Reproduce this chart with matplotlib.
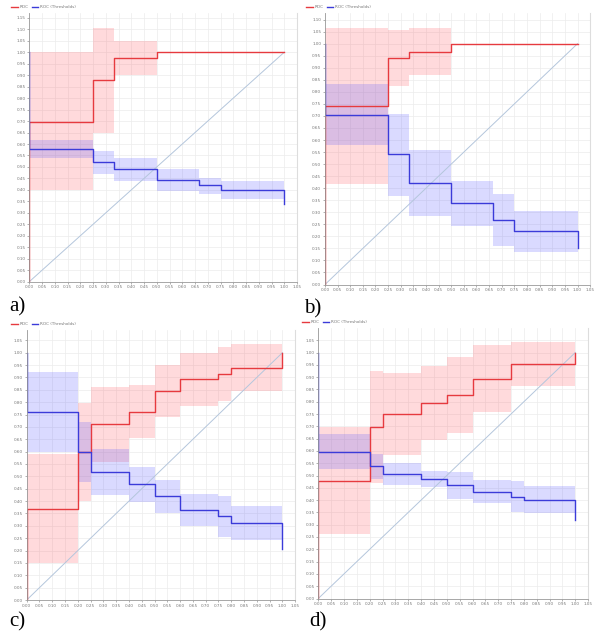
#!/usr/bin/env python3
"""Four ROC panels with threshold curves and confidence bands."""

import matplotlib
matplotlib.use("Agg")
import matplotlib.pyplot as plt
import numpy as np

# panel a
a_roc_edges = [0, 0.25, 0.333, 0.5, 1.0]
a_roc = [0.695, 0.88, 0.975, 1.0]
a_roc_band_edges = [0, 0.25, 0.333, 0.5]
a_roc_low = [0.40, 0.65, 0.90]
a_roc_high = [1.00, 1.105, 1.047]
a_thr_edges = [0, 0.25, 0.333, 0.5, 0.667, 0.75, 1.0]
a_thr = [0.58, 0.52, 0.49, 0.445, 0.42, 0.40]
a_thr_end = 0.34
a_thr_low = [0.54, 0.468, 0.44, 0.395, 0.383, 0.362]
a_thr_high = [0.619, 0.571, 0.539, 0.491, 0.453, 0.437]

# panel b
b_roc_edges = [0, 0.25, 0.333, 0.5, 1.0]
b_roc = [0.742, 0.942, 0.967, 1.0]
b_roc_band_edges = [0, 0.25, 0.333, 0.5]
b_roc_low = [0.418, 0.824, 0.869]
b_roc_high = [1.065, 1.057, 1.065]
b_thr_edges = [0, 0.25, 0.333, 0.5, 0.667, 0.75, 1.0]
b_thr = [0.705, 0.541, 0.42, 0.337, 0.269, 0.221]
b_thr_end = 0.15
b_thr_low = [0.578, 0.369, 0.283, 0.243, 0.16, 0.135]
b_thr_high = [0.834, 0.708, 0.557, 0.43, 0.376, 0.305]

# panel c
c_roc_edges = [0, 0.2, 0.25, 0.4, 0.5, 0.6, 0.75, 0.8, 1.0]
c_roc = [0.369, 0.60, 0.713, 0.761, 0.844, 0.894, 0.914, 0.937]
c_roc_band_edges = c_roc_edges
c_roc_low = [0.15, 0.40, 0.559, 0.656, 0.739, 0.784, 0.806, 0.846]
c_roc_high = [0.592, 0.797, 0.863, 0.869, 0.949, 1.0, 1.022, 1.034]
c_thr_edges = [0, 0.2, 0.25, 0.4, 0.5, 0.6, 0.75, 0.8, 1.0]
c_thr = [0.761, 0.60, 0.519, 0.469, 0.419, 0.365, 0.34, 0.311]
c_thr_end = 0.205
c_thr_low = [0.597, 0.476, 0.426, 0.398, 0.35, 0.30, 0.255, 0.243]
c_thr_high = [0.923, 0.72, 0.612, 0.537, 0.484, 0.43, 0.42, 0.379]

# panel d
d_roc_edges = [0, 0.2, 0.25, 0.4, 0.5, 0.6, 0.75, 1.0]
d_roc = [0.479, 0.698, 0.749, 0.795, 0.829, 0.892, 0.953]
d_roc_band_edges = d_roc_edges
d_roc_low = [0.261, 0.47, 0.583, 0.644, 0.674, 0.757, 0.863]
d_roc_high = [0.698, 0.925, 0.917, 0.944, 0.98, 1.029, 1.041]
d_thr_edges = [0, 0.2, 0.25, 0.4, 0.5, 0.6, 0.75, 0.8, 1.0]
d_thr = [0.596, 0.539, 0.506, 0.485, 0.461, 0.434, 0.414, 0.402]
d_thr_end = 0.319
d_thr_low = [0.525, 0.487, 0.46, 0.452, 0.404, 0.39, 0.35, 0.346]
d_thr_high = [0.667, 0.589, 0.552, 0.518, 0.513, 0.482, 0.478, 0.456]

RED = "#e63a3f"
BLUE = "#3b3bd9"
RED_BAND = (1.0, 0.35, 0.38, 0.22)
BLUE_BAND = (0.35, 0.35, 1.0, 0.22)

W, H = 595, 634


def step_path(edges, values, start, end):
    xs, ys = [edges[0]], [start]
    for i, v in enumerate(values):
        xs += [edges[i], edges[i + 1]]
        ys += [v, v]
    xs.append(edges[-1])
    ys.append(end)
    return xs, ys


def band(ax, edges, low, high, color):
    ax.fill_between(edges, list(low) + [low[-1]], list(high) + [high[-1]],
                    step="post", color=color, linewidth=0)


def draw_panel(ax, roc_edges, roc, band_edges, roc_low, roc_high,
               thr_edges, thr, thr_end, thr_low, thr_high, ytop):
    band(ax, band_edges, roc_low, roc_high, RED_BAND)
    band(ax, thr_edges, thr_low, thr_high, BLUE_BAND)
    ax.plot([0, 1], [0, 1], color="#b4c6dc", lw=0.7)
    x, y = step_path(roc_edges, roc, 0.0, 1.0)
    ax.plot(x, y, color=RED, lw=1.0, label="ROC")
    x, y = step_path(thr_edges, thr, 1.0, thr_end)
    ax.plot(x, y, color=BLUE, lw=1.0, label="ROC (Thresholds)")

    ticks = np.round(np.arange(0, 1.051, 0.05), 2)
    ax.set_xlim(0, 1.05)
    ax.set_ylim(0, ytop)
    ax.set_xticks(ticks)
    ax.set_yticks(np.round(np.arange(0, ytop, 0.05), 2))
    ax.xaxis.set_major_formatter(matplotlib.ticker.FormatStrFormatter("%.2f"))
    ax.yaxis.set_major_formatter(matplotlib.ticker.FormatStrFormatter("%.2f"))
    ax.tick_params(labelsize=3, colors="#777777", length=1.2, width=0.4, pad=1.5)
    ax.grid(True, color="#ececec", lw=0.5)
    ax.set_axisbelow(True)
    for side in ("left", "bottom"):
        ax.spines[side].set_color("#999999")
        ax.spines[side].set_linewidth(0.6)
    ax.spines["right"].set_color("#dddddd")
    ax.spines["right"].set_linewidth(0.8)
    ax.spines["top"].set_visible(False)


def main() -> None:
    fig = plt.figure(figsize=(W / 100, H / 100), dpi=100)

    # left px, px per unit x, y0 px, px per unit y, ylim top
    layout = [
        (29.3, 255.0, 281.7, 229.5, 1.17),
        (325.0, 252.5, 284.5, 240.8, 1.127),
        (26.7, 255.7, 600.0, 247.3, 1.09),
        (318.3, 257.0, 598.5, 246.0, 1.10),
    ]
    panels = [
        (a_roc_edges, a_roc, a_roc_band_edges, a_roc_low, a_roc_high,
         a_thr_edges, a_thr, a_thr_end, a_thr_low, a_thr_high),
        (b_roc_edges, b_roc, b_roc_band_edges, b_roc_low, b_roc_high,
         b_thr_edges, b_thr, b_thr_end, b_thr_low, b_thr_high),
        (c_roc_edges, c_roc, c_roc_band_edges, c_roc_low, c_roc_high,
         c_thr_edges, c_thr, c_thr_end, c_thr_low, c_thr_high),
        (d_roc_edges, d_roc, d_roc_band_edges, d_roc_low, d_roc_high,
         d_thr_edges, d_thr, d_thr_end, d_thr_low, d_thr_high),
    ]
    legend_pos = [(11, 7), (306, 7), (11, 324), (302, 322)]
    letters = [("a)", 9, 307), ("b)", 304, 309), ("c)", 9, 622), ("d)", 309, 622)]

    for (left, sx, y0, sy, ytop), data, (lx, ly), (lab, tx, ty) in zip(
            layout, panels, legend_pos, letters):
        width = 1.05 * sx
        height = ytop * sy
        ax = fig.add_axes([left / W, 1 - y0 / H, width / W, height / H])
        draw_panel(ax, *data, ytop)
        ax.legend(loc="center left", bbox_to_anchor=(lx / W, 1 - ly / H),
                  bbox_transform=fig.transFigure, ncol=2, frameon=False,
                  fontsize=3, handlelength=1.6, handletextpad=0.4,
                  columnspacing=0.8, borderpad=0, borderaxespad=0,
                  labelcolor="#777777")
        fig.text(tx / W, 1 - ty / H, lab, fontsize=15, family="Liberation Serif",
                 va="center", ha="left")

    fig.savefig("out.png", dpi=100)
    plt.close(fig)


if __name__ == "__main__":
    main()
